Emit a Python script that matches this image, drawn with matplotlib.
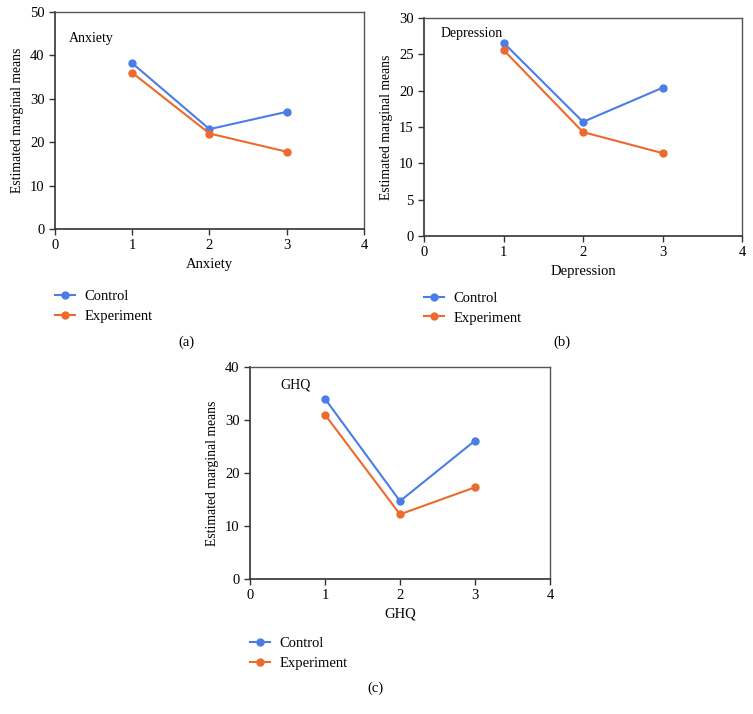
import matplotlib.pyplot as plt
import numpy as np

plt.rcParams['font.family'] = ['Liberation Serif', 'DejaVu Serif']

x = [1, 2, 3]

anx_control = [38.2, 23.0, 27.0]
anx_experiment = [36.0, 22.0, 17.8]
dep_control = [26.6, 15.7, 20.4]
dep_experiment = [25.6, 14.3, 11.4]
ghq_control = [34.0, 14.7, 26.1]
ghq_experiment = [31.0, 12.2, 17.3]

blue = '#4a7de6'
orange = '#ec6a2c'

fig = plt.figure(figsize=(7.53, 7.14), dpi=100)

panels = [
    # rect, name, control, experiment, ymax, ystep, caption pos, label pos, legend y
    ([0.0730, 0.6793, 0.4104, 0.3039], 'Anxiety', anx_control, anx_experiment, 50, 10, (0.247, 0.521), (0.045, 0.88), -0.28),
    ([0.5631, 0.6695, 0.4223, 0.3053], 'Depression', dep_control, dep_experiment, 30, 5, (0.746, 0.521), (0.053, 0.93), -0.255),
    ([0.3320, 0.1891, 0.3984, 0.2969], 'GHQ', ghq_control, ghq_experiment, 40, 10, (0.498, 0.036), (0.1, 0.915), -0.275),
]
captions = ['(a)', '(b)', '(c)']

for (rect, name, ctrl, expt, ymax, ystep, cap, lab, legy), capt in zip(panels, captions):
    ax = fig.add_axes(rect)
    ax.plot(x, ctrl, '-o', color=blue, lw=1.5, ms=5, label='Control')
    ax.plot(x, expt, '-o', color=orange, lw=1.5, ms=5, label='Experiment')
    ax.set_xlim(0, 4)
    ax.set_ylim(0, ymax)
    ax.set_xticks([0, 1, 2, 3, 4])
    ax.set_yticks(np.arange(0, ymax + 1, ystep))
    ax.tick_params(direction='out', length=4, width=1, labelsize=10.5, color='#333333')
    for s in ['left', 'bottom']:
        ax.spines[s].set_color('#333333')
        ax.spines[s].set_linewidth(1.2)
    for s in ['top', 'right']:
        ax.spines[s].set_color('#555555')
        ax.spines[s].set_linewidth(1.0)
    ax.set_xlabel(name, fontsize=10.5, labelpad=4)
    ax.set_ylabel('Estimated marginal means', fontsize=9.8, labelpad=4)
    ax.text(lab[0], lab[1], name, transform=ax.transAxes, fontsize=10, va='center')
    ax.legend(loc='upper left', bbox_to_anchor=(0.0, legy), frameon=False,
              borderpad=0, borderaxespad=0, handlelength=1.4, handletextpad=0.6,
              labelspacing=0.45, fontsize=10.5)
    fig.text(cap[0], cap[1], capt, ha='center', va='center', fontsize=10.5)

fig.savefig('out.png', dpi=100)
